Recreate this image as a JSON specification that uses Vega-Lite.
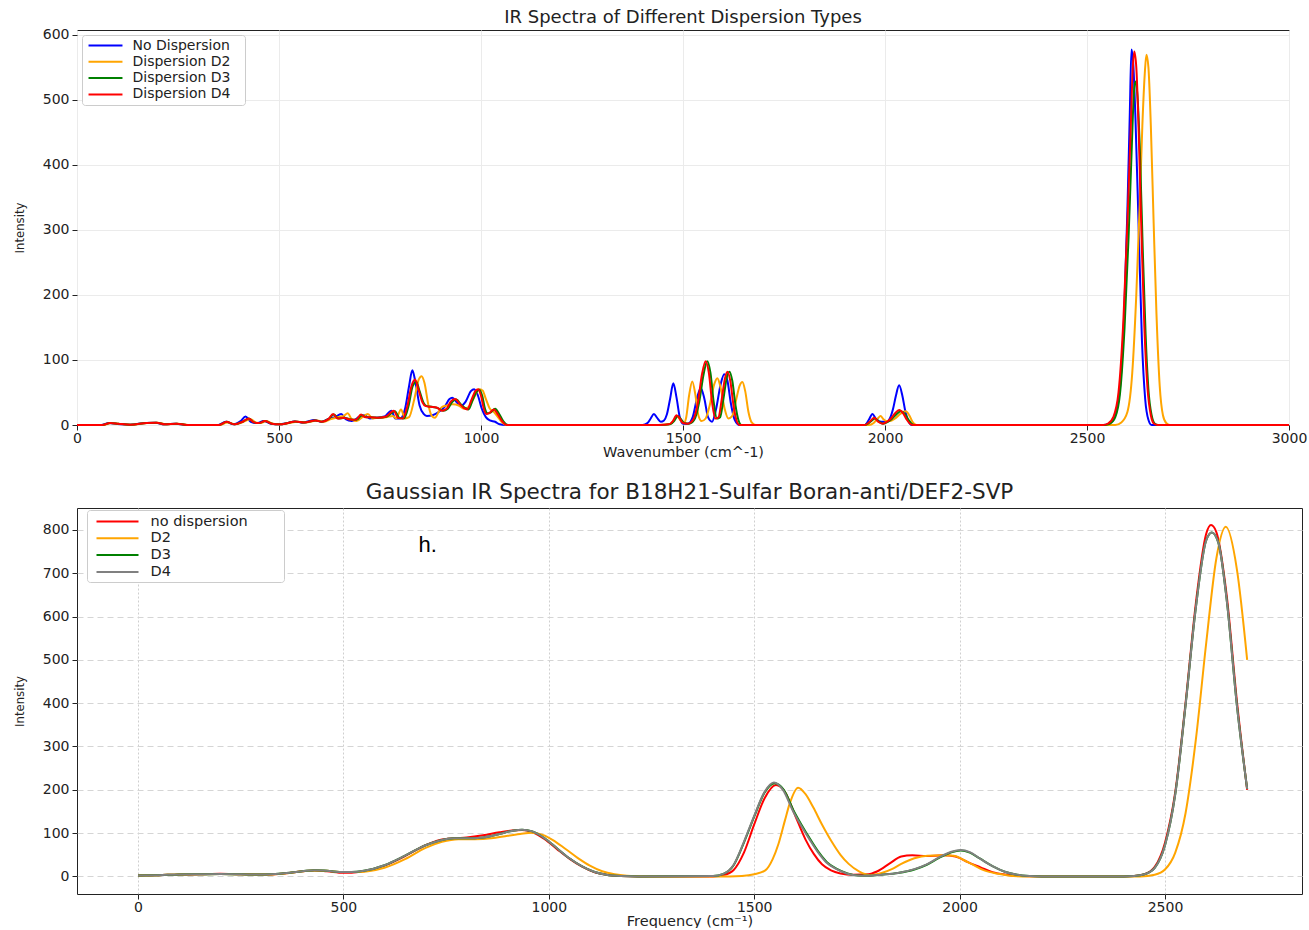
{
"$schema": "https://vega.github.io/schema/vega-lite/v6.json",
"padding": {"left": 12, "top": 8, "right": 0, "bottom": 0},
"config": {
  "font": "DejaVu Sans",
  "view": {"stroke": "#222", "strokeWidth": 1},
  "axis": {"domain": false, "tickColor": "#222", "tickSize": 5, "labelColor": "#222", "labelFontSize": 14, "titleFontSize": 14.5, "titleFontWeight": "normal", "titleColor": "#222", "labelPadding": 3, "format": "d", "labelFlush": false},
  "title": {"fontWeight": "normal", "color": "#222", "font": "DejaVu Sans"}
},
"spacing": 22,
"resolve": {"scale": {"color": "independent"}, "legend": {"color": "independent"}},
"vconcat": [
{
  "width": 1212, "height": 395,
  "title": {"text": "IR Spectra of Different Dispersion Types", "fontSize": 18, "offset": 1},
  "data": {"values": [
{"s":"No Dispersion","x":0,"y":0},{"s":"No Dispersion","x":60,"y":0},{"s":"No Dispersion","x":80,"y":3},{"s":"No Dispersion","x":100,"y":1.5},{"s":"No Dispersion","x":130,"y":0.5},{"s":"No Dispersion","x":170,"y":3},{"s":"No Dispersion","x":195,"y":3.5},{"s":"No Dispersion","x":215,"y":1},{"s":"No Dispersion","x":245,"y":2},{"s":"No Dispersion","x":270,"y":0},{"s":"No Dispersion","x":350,"y":0},{"s":"No Dispersion","x":368,"y":5},{"s":"No Dispersion","x":388,"y":1},{"s":"No Dispersion","x":405,"y":6},{"s":"No Dispersion","x":417,"y":13},{"s":"No Dispersion","x":430,"y":5},{"s":"No Dispersion","x":445,"y":3},{"s":"No Dispersion","x":462,"y":6},{"s":"No Dispersion","x":480,"y":2},{"s":"No Dispersion","x":501,"y":1},{"s":"No Dispersion","x":520,"y":3},{"s":"No Dispersion","x":538,"y":5.5},{"s":"No Dispersion","x":560,"y":4},{"s":"No Dispersion","x":588,"y":7.5},{"s":"No Dispersion","x":605,"y":5},{"s":"No Dispersion","x":621,"y":9},{"s":"No Dispersion","x":638,"y":12},{"s":"No Dispersion","x":654,"y":17},{"s":"No Dispersion","x":665,"y":9},{"s":"No Dispersion","x":680,"y":6},{"s":"No Dispersion","x":700,"y":13},{"s":"No Dispersion","x":712,"y":15},{"s":"No Dispersion","x":725,"y":10},{"s":"No Dispersion","x":740,"y":11},{"s":"No Dispersion","x":761,"y":13},{"s":"No Dispersion","x":770,"y":18},{"s":"No Dispersion","x":778,"y":22},{"s":"No Dispersion","x":788,"y":10},{"s":"No Dispersion","x":800,"y":10},{"s":"No Dispersion","x":812,"y":25},{"s":"No Dispersion","x":822,"y":60},{"s":"No Dispersion","x":830,"y":84},{"s":"No Dispersion","x":838,"y":65},{"s":"No Dispersion","x":848,"y":30},{"s":"No Dispersion","x":858,"y":17},{"s":"No Dispersion","x":866,"y":14},{"s":"No Dispersion","x":880,"y":15},{"s":"No Dispersion","x":895,"y":20},{"s":"No Dispersion","x":910,"y":28},{"s":"No Dispersion","x":922,"y":40},{"s":"No Dispersion","x":929,"y":42},{"s":"No Dispersion","x":940,"y":35},{"s":"No Dispersion","x":950,"y":29},{"s":"No Dispersion","x":962,"y":36},{"s":"No Dispersion","x":975,"y":52},{"s":"No Dispersion","x":983,"y":55},{"s":"No Dispersion","x":992,"y":46},{"s":"No Dispersion","x":1002,"y":25},{"s":"No Dispersion","x":1012,"y":12},{"s":"No Dispersion","x":1022,"y":7},{"s":"No Dispersion","x":1035,"y":5},{"s":"No Dispersion","x":1046,"y":1},{"s":"No Dispersion","x":1060,"y":0},{"s":"No Dispersion","x":1400,"y":0},{"s":"No Dispersion","x":1412,"y":3},{"s":"No Dispersion","x":1420,"y":10},{"s":"No Dispersion","x":1428,"y":17},{"s":"No Dispersion","x":1436,"y":11},{"s":"No Dispersion","x":1445,"y":5},{"s":"No Dispersion","x":1453,"y":7},{"s":"No Dispersion","x":1460,"y":16},{"s":"No Dispersion","x":1468,"y":40},{"s":"No Dispersion","x":1476,"y":64},{"s":"No Dispersion","x":1484,"y":42},{"s":"No Dispersion","x":1492,"y":12},{"s":"No Dispersion","x":1500,"y":2},{"s":"No Dispersion","x":1512,"y":2},{"s":"No Dispersion","x":1524,"y":12},{"s":"No Dispersion","x":1535,"y":42},{"s":"No Dispersion","x":1544,"y":57},{"s":"No Dispersion","x":1553,"y":40},{"s":"No Dispersion","x":1562,"y":12},{"s":"No Dispersion","x":1572,"y":5},{"s":"No Dispersion","x":1582,"y":25},{"s":"No Dispersion","x":1593,"y":62},{"s":"No Dispersion","x":1602,"y":78},{"s":"No Dispersion","x":1610,"y":68},{"s":"No Dispersion","x":1618,"y":35},{"s":"No Dispersion","x":1628,"y":8},{"s":"No Dispersion","x":1640,"y":0},{"s":"No Dispersion","x":1950,"y":0},{"s":"No Dispersion","x":1960,"y":8},{"s":"No Dispersion","x":1969,"y":17},{"s":"No Dispersion","x":1977,"y":10},{"s":"No Dispersion","x":1985,"y":6},{"s":"No Dispersion","x":1995,"y":5},{"s":"No Dispersion","x":2004,"y":5},{"s":"No Dispersion","x":2012,"y":10},{"s":"No Dispersion","x":2020,"y":25},{"s":"No Dispersion","x":2027,"y":45},{"s":"No Dispersion","x":2035,"y":61},{"s":"No Dispersion","x":2043,"y":45},{"s":"No Dispersion","x":2050,"y":22},{"s":"No Dispersion","x":2058,"y":6},{"s":"No Dispersion","x":2066,"y":0},{"s":"No Dispersion","x":2540,"y":0},{"s":"No Dispersion","x":2555,"y":2},{"s":"No Dispersion","x":2570,"y":15},{"s":"No Dispersion","x":2582,"y":60},{"s":"No Dispersion","x":2592,"y":170},{"s":"No Dispersion","x":2600,"y":330},{"s":"No Dispersion","x":2606,"y":480},{"s":"No Dispersion","x":2610,"y":577},{"s":"No Dispersion","x":2614,"y":560},{"s":"No Dispersion","x":2620,"y":470},{"s":"No Dispersion","x":2628,"y":300},{"s":"No Dispersion","x":2636,"y":130},{"s":"No Dispersion","x":2644,"y":40},{"s":"No Dispersion","x":2652,"y":8},{"s":"No Dispersion","x":2660,"y":0},{"s":"No Dispersion","x":3000,"y":0},
{"s":"Dispersion D2","x":0,"y":0},{"s":"Dispersion D2","x":65,"y":0},{"s":"Dispersion D2","x":85,"y":3},{"s":"Dispersion D2","x":105,"y":1.5},{"s":"Dispersion D2","x":135,"y":0.5},{"s":"Dispersion D2","x":175,"y":3},{"s":"Dispersion D2","x":200,"y":3.5},{"s":"Dispersion D2","x":220,"y":1},{"s":"Dispersion D2","x":250,"y":2},{"s":"Dispersion D2","x":275,"y":0},{"s":"Dispersion D2","x":355,"y":0},{"s":"Dispersion D2","x":372,"y":4},{"s":"Dispersion D2","x":392,"y":1},{"s":"Dispersion D2","x":412,"y":5},{"s":"Dispersion D2","x":430,"y":9},{"s":"Dispersion D2","x":442,"y":4},{"s":"Dispersion D2","x":455,"y":3},{"s":"Dispersion D2","x":468,"y":6},{"s":"Dispersion D2","x":485,"y":2},{"s":"Dispersion D2","x":505,"y":1},{"s":"Dispersion D2","x":525,"y":3},{"s":"Dispersion D2","x":545,"y":5},{"s":"Dispersion D2","x":565,"y":4},{"s":"Dispersion D2","x":595,"y":7},{"s":"Dispersion D2","x":610,"y":5},{"s":"Dispersion D2","x":628,"y":9},{"s":"Dispersion D2","x":645,"y":12},{"s":"Dispersion D2","x":660,"y":14},{"s":"Dispersion D2","x":670,"y":18},{"s":"Dispersion D2","x":680,"y":9},{"s":"Dispersion D2","x":692,"y":6},{"s":"Dispersion D2","x":708,"y":13},{"s":"Dispersion D2","x":720,"y":17},{"s":"Dispersion D2","x":732,"y":10},{"s":"Dispersion D2","x":745,"y":11},{"s":"Dispersion D2","x":765,"y":12},{"s":"Dispersion D2","x":782,"y":14},{"s":"Dispersion D2","x":790,"y":10},{"s":"Dispersion D2","x":802,"y":24},{"s":"Dispersion D2","x":812,"y":10},{"s":"Dispersion D2","x":822,"y":12},{"s":"Dispersion D2","x":835,"y":40},{"s":"Dispersion D2","x":846,"y":70},{"s":"Dispersion D2","x":853,"y":75},{"s":"Dispersion D2","x":860,"y":65},{"s":"Dispersion D2","x":870,"y":30},{"s":"Dispersion D2","x":878,"y":14},{"s":"Dispersion D2","x":886,"y":11},{"s":"Dispersion D2","x":895,"y":20},{"s":"Dispersion D2","x":902,"y":27},{"s":"Dispersion D2","x":915,"y":30},{"s":"Dispersion D2","x":930,"y":32},{"s":"Dispersion D2","x":945,"y":30},{"s":"Dispersion D2","x":958,"y":25},{"s":"Dispersion D2","x":970,"y":28},{"s":"Dispersion D2","x":985,"y":45},{"s":"Dispersion D2","x":995,"y":55},{"s":"Dispersion D2","x":1004,"y":53},{"s":"Dispersion D2","x":1012,"y":40},{"s":"Dispersion D2","x":1022,"y":25},{"s":"Dispersion D2","x":1032,"y":20},{"s":"Dispersion D2","x":1042,"y":12},{"s":"Dispersion D2","x":1052,"y":4},{"s":"Dispersion D2","x":1062,"y":0},{"s":"Dispersion D2","x":1440,"y":0},{"s":"Dispersion D2","x":1470,"y":2},{"s":"Dispersion D2","x":1478,"y":8},{"s":"Dispersion D2","x":1486,"y":13},{"s":"Dispersion D2","x":1494,"y":7},{"s":"Dispersion D2","x":1502,"y":3},{"s":"Dispersion D2","x":1508,"y":12},{"s":"Dispersion D2","x":1515,"y":45},{"s":"Dispersion D2","x":1523,"y":67},{"s":"Dispersion D2","x":1531,"y":45},{"s":"Dispersion D2","x":1538,"y":15},{"s":"Dispersion D2","x":1546,"y":6},{"s":"Dispersion D2","x":1556,"y":10},{"s":"Dispersion D2","x":1566,"y":30},{"s":"Dispersion D2","x":1577,"y":62},{"s":"Dispersion D2","x":1585,"y":72},{"s":"Dispersion D2","x":1593,"y":58},{"s":"Dispersion D2","x":1603,"y":25},{"s":"Dispersion D2","x":1612,"y":10},{"s":"Dispersion D2","x":1622,"y":14},{"s":"Dispersion D2","x":1632,"y":40},{"s":"Dispersion D2","x":1640,"y":60},{"s":"Dispersion D2","x":1647,"y":66},{"s":"Dispersion D2","x":1654,"y":52},{"s":"Dispersion D2","x":1662,"y":20},{"s":"Dispersion D2","x":1670,"y":4},{"s":"Dispersion D2","x":1680,"y":0},{"s":"Dispersion D2","x":1960,"y":0},{"s":"Dispersion D2","x":1972,"y":3},{"s":"Dispersion D2","x":1982,"y":10},{"s":"Dispersion D2","x":1989,"y":14},{"s":"Dispersion D2","x":1996,"y":9},{"s":"Dispersion D2","x":2003,"y":6},{"s":"Dispersion D2","x":2012,"y":6},{"s":"Dispersion D2","x":2025,"y":10},{"s":"Dispersion D2","x":2038,"y":17},{"s":"Dispersion D2","x":2051,"y":21},{"s":"Dispersion D2","x":2060,"y":15},{"s":"Dispersion D2","x":2068,"y":5},{"s":"Dispersion D2","x":2078,"y":0},{"s":"Dispersion D2","x":2570,"y":0},{"s":"Dispersion D2","x":2585,"y":4},{"s":"Dispersion D2","x":2600,"y":20},{"s":"Dispersion D2","x":2612,"y":80},{"s":"Dispersion D2","x":2622,"y":200},{"s":"Dispersion D2","x":2630,"y":330},{"s":"Dispersion D2","x":2637,"y":460},{"s":"Dispersion D2","x":2643,"y":540},{"s":"Dispersion D2","x":2647,"y":569},{"s":"Dispersion D2","x":2652,"y":550},{"s":"Dispersion D2","x":2658,"y":460},{"s":"Dispersion D2","x":2665,"y":310},{"s":"Dispersion D2","x":2672,"y":170},{"s":"Dispersion D2","x":2680,"y":60},{"s":"Dispersion D2","x":2688,"y":15},{"s":"Dispersion D2","x":2696,"y":3},{"s":"Dispersion D2","x":2705,"y":0},{"s":"Dispersion D2","x":3000,"y":0},
{"s":"Dispersion D3","x":0,"y":0},{"s":"Dispersion D3","x":62,"y":0},{"s":"Dispersion D3","x":82,"y":3},{"s":"Dispersion D3","x":102,"y":2},{"s":"Dispersion D3","x":132,"y":0.5},{"s":"Dispersion D3","x":172,"y":3},{"s":"Dispersion D3","x":197,"y":3.5},{"s":"Dispersion D3","x":217,"y":1},{"s":"Dispersion D3","x":247,"y":2},{"s":"Dispersion D3","x":272,"y":0},{"s":"Dispersion D3","x":352,"y":0},{"s":"Dispersion D3","x":370,"y":5},{"s":"Dispersion D3","x":390,"y":1},{"s":"Dispersion D3","x":410,"y":5},{"s":"Dispersion D3","x":425,"y":10},{"s":"Dispersion D3","x":438,"y":4},{"s":"Dispersion D3","x":450,"y":3},{"s":"Dispersion D3","x":465,"y":6},{"s":"Dispersion D3","x":482,"y":2},{"s":"Dispersion D3","x":502,"y":1},{"s":"Dispersion D3","x":522,"y":3},{"s":"Dispersion D3","x":540,"y":5.5},{"s":"Dispersion D3","x":562,"y":4},{"s":"Dispersion D3","x":590,"y":7},{"s":"Dispersion D3","x":606,"y":5},{"s":"Dispersion D3","x":622,"y":9},{"s":"Dispersion D3","x":636,"y":16},{"s":"Dispersion D3","x":647,"y":10},{"s":"Dispersion D3","x":662,"y":11},{"s":"Dispersion D3","x":674,"y":9},{"s":"Dispersion D3","x":692,"y":8},{"s":"Dispersion D3","x":705,"y":15},{"s":"Dispersion D3","x":716,"y":12},{"s":"Dispersion D3","x":730,"y":12},{"s":"Dispersion D3","x":747,"y":11},{"s":"Dispersion D3","x":767,"y":13},{"s":"Dispersion D3","x":787,"y":21},{"s":"Dispersion D3","x":798,"y":11},{"s":"Dispersion D3","x":809,"y":10},{"s":"Dispersion D3","x":821,"y":30},{"s":"Dispersion D3","x":831,"y":60},{"s":"Dispersion D3","x":840,"y":66},{"s":"Dispersion D3","x":848,"y":52},{"s":"Dispersion D3","x":858,"y":34},{"s":"Dispersion D3","x":866,"y":29},{"s":"Dispersion D3","x":878,"y":28},{"s":"Dispersion D3","x":893,"y":26},{"s":"Dispersion D3","x":906,"y":22},{"s":"Dispersion D3","x":918,"y":25},{"s":"Dispersion D3","x":928,"y":35},{"s":"Dispersion D3","x":939,"y":39},{"s":"Dispersion D3","x":951,"y":31},{"s":"Dispersion D3","x":961,"y":26},{"s":"Dispersion D3","x":969,"y":24},{"s":"Dispersion D3","x":979,"y":38},{"s":"Dispersion D3","x":989,"y":51},{"s":"Dispersion D3","x":996,"y":54},{"s":"Dispersion D3","x":1003,"y":45},{"s":"Dispersion D3","x":1010,"y":25},{"s":"Dispersion D3","x":1016,"y":18},{"s":"Dispersion D3","x":1023,"y":19},{"s":"Dispersion D3","x":1035,"y":25},{"s":"Dispersion D3","x":1045,"y":17},{"s":"Dispersion D3","x":1055,"y":6},{"s":"Dispersion D3","x":1067,"y":0},{"s":"Dispersion D3","x":1445,"y":0},{"s":"Dispersion D3","x":1468,"y":1},{"s":"Dispersion D3","x":1478,"y":6},{"s":"Dispersion D3","x":1487,"y":14},{"s":"Dispersion D3","x":1495,"y":9},{"s":"Dispersion D3","x":1503,"y":3},{"s":"Dispersion D3","x":1515,"y":2},{"s":"Dispersion D3","x":1528,"y":8},{"s":"Dispersion D3","x":1540,"y":35},{"s":"Dispersion D3","x":1551,"y":78},{"s":"Dispersion D3","x":1560,"y":98},{"s":"Dispersion D3","x":1568,"y":80},{"s":"Dispersion D3","x":1576,"y":35},{"s":"Dispersion D3","x":1584,"y":10},{"s":"Dispersion D3","x":1592,"y":12},{"s":"Dispersion D3","x":1600,"y":40},{"s":"Dispersion D3","x":1608,"y":72},{"s":"Dispersion D3","x":1615,"y":82},{"s":"Dispersion D3","x":1622,"y":68},{"s":"Dispersion D3","x":1630,"y":30},{"s":"Dispersion D3","x":1637,"y":8},{"s":"Dispersion D3","x":1645,"y":0},{"s":"Dispersion D3","x":1950,"y":0},{"s":"Dispersion D3","x":1964,"y":5},{"s":"Dispersion D3","x":1975,"y":10},{"s":"Dispersion D3","x":1985,"y":5},{"s":"Dispersion D3","x":1996,"y":2},{"s":"Dispersion D3","x":2008,"y":5},{"s":"Dispersion D3","x":2018,"y":10},{"s":"Dispersion D3","x":2029,"y":17},{"s":"Dispersion D3","x":2039,"y":21},{"s":"Dispersion D3","x":2049,"y":17},{"s":"Dispersion D3","x":2058,"y":8},{"s":"Dispersion D3","x":2066,"y":2},{"s":"Dispersion D3","x":2074,"y":0},{"s":"Dispersion D3","x":2545,"y":0},{"s":"Dispersion D3","x":2557,"y":2},{"s":"Dispersion D3","x":2570,"y":12},{"s":"Dispersion D3","x":2582,"y":50},{"s":"Dispersion D3","x":2593,"y":150},{"s":"Dispersion D3","x":2603,"y":290},{"s":"Dispersion D3","x":2611,"y":430},{"s":"Dispersion D3","x":2616,"y":510},{"s":"Dispersion D3","x":2620,"y":528},{"s":"Dispersion D3","x":2625,"y":505},{"s":"Dispersion D3","x":2631,"y":420},{"s":"Dispersion D3","x":2638,"y":270},{"s":"Dispersion D3","x":2645,"y":140},{"s":"Dispersion D3","x":2652,"y":55},{"s":"Dispersion D3","x":2660,"y":15},{"s":"Dispersion D3","x":2668,"y":2},{"s":"Dispersion D3","x":2676,"y":0},{"s":"Dispersion D3","x":3000,"y":0},
{"s":"Dispersion D4","x":0,"y":0},{"s":"Dispersion D4","x":62,"y":0},{"s":"Dispersion D4","x":82,"y":3},{"s":"Dispersion D4","x":102,"y":2},{"s":"Dispersion D4","x":132,"y":0.5},{"s":"Dispersion D4","x":172,"y":3},{"s":"Dispersion D4","x":197,"y":3.5},{"s":"Dispersion D4","x":217,"y":1},{"s":"Dispersion D4","x":247,"y":2},{"s":"Dispersion D4","x":272,"y":0},{"s":"Dispersion D4","x":352,"y":0},{"s":"Dispersion D4","x":370,"y":5},{"s":"Dispersion D4","x":390,"y":1},{"s":"Dispersion D4","x":410,"y":5},{"s":"Dispersion D4","x":425,"y":10},{"s":"Dispersion D4","x":438,"y":4},{"s":"Dispersion D4","x":450,"y":3},{"s":"Dispersion D4","x":465,"y":6},{"s":"Dispersion D4","x":482,"y":2},{"s":"Dispersion D4","x":502,"y":1},{"s":"Dispersion D4","x":522,"y":3},{"s":"Dispersion D4","x":540,"y":5.5},{"s":"Dispersion D4","x":562,"y":4},{"s":"Dispersion D4","x":590,"y":7},{"s":"Dispersion D4","x":606,"y":5},{"s":"Dispersion D4","x":622,"y":9},{"s":"Dispersion D4","x":634,"y":17},{"s":"Dispersion D4","x":645,"y":10},{"s":"Dispersion D4","x":660,"y":11},{"s":"Dispersion D4","x":672,"y":9},{"s":"Dispersion D4","x":690,"y":8},{"s":"Dispersion D4","x":703,"y":16},{"s":"Dispersion D4","x":714,"y":12},{"s":"Dispersion D4","x":728,"y":12},{"s":"Dispersion D4","x":745,"y":11},{"s":"Dispersion D4","x":765,"y":13},{"s":"Dispersion D4","x":784,"y":22},{"s":"Dispersion D4","x":795,"y":11},{"s":"Dispersion D4","x":806,"y":10},{"s":"Dispersion D4","x":818,"y":30},{"s":"Dispersion D4","x":828,"y":60},{"s":"Dispersion D4","x":837,"y":70},{"s":"Dispersion D4","x":845,"y":55},{"s":"Dispersion D4","x":855,"y":35},{"s":"Dispersion D4","x":863,"y":29},{"s":"Dispersion D4","x":875,"y":28},{"s":"Dispersion D4","x":890,"y":27},{"s":"Dispersion D4","x":903,"y":22},{"s":"Dispersion D4","x":915,"y":25},{"s":"Dispersion D4","x":925,"y":36},{"s":"Dispersion D4","x":936,"y":40},{"s":"Dispersion D4","x":948,"y":32},{"s":"Dispersion D4","x":958,"y":26},{"s":"Dispersion D4","x":966,"y":24},{"s":"Dispersion D4","x":976,"y":38},{"s":"Dispersion D4","x":986,"y":52},{"s":"Dispersion D4","x":993,"y":55},{"s":"Dispersion D4","x":1000,"y":45},{"s":"Dispersion D4","x":1007,"y":25},{"s":"Dispersion D4","x":1013,"y":17},{"s":"Dispersion D4","x":1020,"y":18},{"s":"Dispersion D4","x":1032,"y":24},{"s":"Dispersion D4","x":1042,"y":16},{"s":"Dispersion D4","x":1052,"y":6},{"s":"Dispersion D4","x":1064,"y":0},{"s":"Dispersion D4","x":1440,"y":0},{"s":"Dispersion D4","x":1465,"y":1},{"s":"Dispersion D4","x":1475,"y":6},{"s":"Dispersion D4","x":1484,"y":15},{"s":"Dispersion D4","x":1492,"y":10},{"s":"Dispersion D4","x":1500,"y":3},{"s":"Dispersion D4","x":1512,"y":2},{"s":"Dispersion D4","x":1525,"y":8},{"s":"Dispersion D4","x":1537,"y":35},{"s":"Dispersion D4","x":1547,"y":78},{"s":"Dispersion D4","x":1556,"y":98},{"s":"Dispersion D4","x":1564,"y":80},{"s":"Dispersion D4","x":1572,"y":35},{"s":"Dispersion D4","x":1580,"y":10},{"s":"Dispersion D4","x":1588,"y":12},{"s":"Dispersion D4","x":1596,"y":40},{"s":"Dispersion D4","x":1604,"y":72},{"s":"Dispersion D4","x":1610,"y":82},{"s":"Dispersion D4","x":1617,"y":68},{"s":"Dispersion D4","x":1625,"y":30},{"s":"Dispersion D4","x":1632,"y":8},{"s":"Dispersion D4","x":1640,"y":0},{"s":"Dispersion D4","x":1950,"y":0},{"s":"Dispersion D4","x":1962,"y":5},{"s":"Dispersion D4","x":1973,"y":11},{"s":"Dispersion D4","x":1983,"y":5},{"s":"Dispersion D4","x":1994,"y":2},{"s":"Dispersion D4","x":2005,"y":5},{"s":"Dispersion D4","x":2015,"y":10},{"s":"Dispersion D4","x":2025,"y":18},{"s":"Dispersion D4","x":2035,"y":23},{"s":"Dispersion D4","x":2045,"y":18},{"s":"Dispersion D4","x":2054,"y":8},{"s":"Dispersion D4","x":2062,"y":2},{"s":"Dispersion D4","x":2070,"y":0},{"s":"Dispersion D4","x":2540,"y":0},{"s":"Dispersion D4","x":2552,"y":2},{"s":"Dispersion D4","x":2565,"y":12},{"s":"Dispersion D4","x":2578,"y":50},{"s":"Dispersion D4","x":2590,"y":160},{"s":"Dispersion D4","x":2600,"y":310},{"s":"Dispersion D4","x":2608,"y":450},{"s":"Dispersion D4","x":2613,"y":545},{"s":"Dispersion D4","x":2617,"y":574},{"s":"Dispersion D4","x":2622,"y":550},{"s":"Dispersion D4","x":2628,"y":450},{"s":"Dispersion D4","x":2635,"y":290},{"s":"Dispersion D4","x":2642,"y":150},{"s":"Dispersion D4","x":2650,"y":55},{"s":"Dispersion D4","x":2658,"y":15},{"s":"Dispersion D4","x":2666,"y":2},{"s":"Dispersion D4","x":2675,"y":0},{"s":"Dispersion D4","x":3000,"y":0}
  ]},
  "mark": {"type": "line", "strokeWidth": 2, "interpolate": "monotone"},
  "encoding": {
    "x": {"field": "x", "type": "quantitative", "scale": {"domain": [0, 3000], "nice": false, "zero": false},
          "axis": {"values": [0,500,1000,1500,2000,2500,3000], "title": "Wavenumber (cm^-1)", "grid": true, "gridColor": "#ebebeb", "labelPadding": 1, "titlePadding": 0}},
    "y": {"field": "y", "type": "quantitative", "scale": {"domain": [0, 607], "nice": false},
          "axis": {"values": [0,100,200,300,400,500,600], "title": "Intensity", "grid": true, "gridColor": "#ebebeb", "titleFont": "DejaVu Sans Condensed, DejaVu Sans", "titleFontSize": 13, "titlePadding": 16}},
    "color": {"field": "s", "type": "nominal",
      "scale": {"domain": ["No Dispersion","Dispersion D2","Dispersion D3","Dispersion D4"], "range": ["#0000ff","#ffa500","#008000","#ff0000"]},
      "legend": {"title": null, "orient": "top-left", "offset": 5, "symbolType": "M-3,0L3,0", "symbolSize": 128, "symbolStrokeWidth": 2, "symbolOffset": 13, "labelFontSize": 14, "labelOffset": 20, "rowPadding": 2.3, "padding": 3.5, "fillColor": "white", "strokeColor": "#cccccc", "cornerRadius": 3, "labelColor": "#222", "labelExpr": "datum.label + '\u2800'"}}
  }
},
{
  "width": 1225, "height": 386,
  "title": {"text": "Gaussian IR Spectra for B18H21-Sulfar Boran-anti/DEF2-SVP", "fontSize": 21.5, "offset": 5},
  "layer": [
  {
  "data": {"values": [
{"s":"no dispersion","x":0,"y":2},{"s":"no dispersion","x":50,"y":3},{"s":"no dispersion","x":100,"y":4.5},{"s":"no dispersion","x":150,"y":5},{"s":"no dispersion","x":200,"y":6},{"s":"no dispersion","x":250,"y":5},{"s":"no dispersion","x":300,"y":4.5},{"s":"no dispersion","x":350,"y":6.5},{"s":"no dispersion","x":400,"y":12},{"s":"no dispersion","x":430,"y":14},{"s":"no dispersion","x":460,"y":12},{"s":"no dispersion","x":500,"y":8.5},{"s":"no dispersion","x":520,"y":8.5},{"s":"no dispersion","x":550,"y":12},{"s":"no dispersion","x":600,"y":25},{"s":"no dispersion","x":650,"y":47},{"s":"no dispersion","x":700,"y":72},{"s":"no dispersion","x":735,"y":84},{"s":"no dispersion","x":770,"y":88},{"s":"no dispersion","x":800,"y":90},{"s":"no dispersion","x":840,"y":95},{"s":"no dispersion","x":880,"y":102},{"s":"no dispersion","x":910,"y":106},{"s":"no dispersion","x":935,"y":107},{"s":"no dispersion","x":960,"y":102},{"s":"no dispersion","x":990,"y":86},{"s":"no dispersion","x":1020,"y":63},{"s":"no dispersion","x":1050,"y":41},{"s":"no dispersion","x":1080,"y":23},{"s":"no dispersion","x":1110,"y":10},{"s":"no dispersion","x":1140,"y":4},{"s":"no dispersion","x":1175,"y":1},{"s":"no dispersion","x":1220,"y":0},{"s":"no dispersion","x":1400,"y":0},{"s":"no dispersion","x":1425,"y":3},{"s":"no dispersion","x":1450,"y":15},{"s":"no dispersion","x":1475,"y":55},{"s":"no dispersion","x":1500,"y":120},{"s":"no dispersion","x":1525,"y":180},{"s":"no dispersion","x":1553,"y":211},{"s":"no dispersion","x":1575,"y":195},{"s":"no dispersion","x":1600,"y":140},{"s":"no dispersion","x":1625,"y":85},{"s":"no dispersion","x":1645,"y":52},{"s":"no dispersion","x":1665,"y":28},{"s":"no dispersion","x":1687,"y":14},{"s":"no dispersion","x":1710,"y":7},{"s":"no dispersion","x":1740,"y":4},{"s":"no dispersion","x":1778,"y":5},{"s":"no dispersion","x":1800,"y":12},{"s":"no dispersion","x":1830,"y":30},{"s":"no dispersion","x":1858,"y":46},{"s":"no dispersion","x":1885,"y":49},{"s":"no dispersion","x":1920,"y":47},{"s":"no dispersion","x":1960,"y":49},{"s":"no dispersion","x":1990,"y":46},{"s":"no dispersion","x":2020,"y":33},{"s":"no dispersion","x":2051,"y":21},{"s":"no dispersion","x":2080,"y":10},{"s":"no dispersion","x":2115,"y":4},{"s":"no dispersion","x":2150,"y":1},{"s":"no dispersion","x":2200,"y":0},{"s":"no dispersion","x":2400,"y":0},{"s":"no dispersion","x":2425,"y":1},{"s":"no dispersion","x":2450,"y":5},{"s":"no dispersion","x":2475,"y":22},{"s":"no dispersion","x":2500,"y":78},{"s":"no dispersion","x":2525,"y":195},{"s":"no dispersion","x":2550,"y":400},{"s":"no dispersion","x":2575,"y":630},{"s":"no dispersion","x":2600,"y":790},{"s":"no dispersion","x":2612,"y":811},{"s":"no dispersion","x":2625,"y":795},{"s":"no dispersion","x":2650,"y":650},{"s":"no dispersion","x":2675,"y":405},{"s":"no dispersion","x":2700,"y":200},
{"s":"D2","x":0,"y":2},{"s":"D2","x":50,"y":3},{"s":"D2","x":100,"y":4.5},{"s":"D2","x":150,"y":5},{"s":"D2","x":200,"y":5.5},{"s":"D2","x":250,"y":5},{"s":"D2","x":300,"y":4.5},{"s":"D2","x":350,"y":6.5},{"s":"D2","x":400,"y":12},{"s":"D2","x":430,"y":14},{"s":"D2","x":460,"y":13},{"s":"D2","x":500,"y":10},{"s":"D2","x":530,"y":10},{"s":"D2","x":560,"y":12},{"s":"D2","x":600,"y":20},{"s":"D2","x":650,"y":40},{"s":"D2","x":700,"y":66},{"s":"D2","x":740,"y":80},{"s":"D2","x":780,"y":86},{"s":"D2","x":820,"y":86},{"s":"D2","x":860,"y":88},{"s":"D2","x":900,"y":94},{"s":"D2","x":930,"y":98},{"s":"D2","x":958,"y":101},{"s":"D2","x":985,"y":96},{"s":"D2","x":1010,"y":84},{"s":"D2","x":1040,"y":64},{"s":"D2","x":1070,"y":43},{"s":"D2","x":1100,"y":25},{"s":"D2","x":1130,"y":12},{"s":"D2","x":1160,"y":5},{"s":"D2","x":1190,"y":1.5},{"s":"D2","x":1230,"y":0},{"s":"D2","x":1440,"y":0},{"s":"D2","x":1470,"y":1},{"s":"D2","x":1500,"y":5},{"s":"D2","x":1527,"y":14},{"s":"D2","x":1545,"y":40},{"s":"D2","x":1559,"y":75},{"s":"D2","x":1575,"y":130},{"s":"D2","x":1586,"y":167},{"s":"D2","x":1607,"y":205},{"s":"D2","x":1625,"y":190},{"s":"D2","x":1644,"y":159},{"s":"D2","x":1665,"y":120},{"s":"D2","x":1687,"y":83},{"s":"D2","x":1710,"y":50},{"s":"D2","x":1730,"y":29},{"s":"D2","x":1755,"y":12},{"s":"D2","x":1783,"y":3},{"s":"D2","x":1810,"y":8},{"s":"D2","x":1835,"y":17},{"s":"D2","x":1858,"y":29},{"s":"D2","x":1890,"y":42},{"s":"D2","x":1922,"y":48},{"s":"D2","x":1960,"y":49},{"s":"D2","x":1986,"y":48},{"s":"D2","x":2010,"y":38},{"s":"D2","x":2029,"y":29},{"s":"D2","x":2060,"y":14},{"s":"D2","x":2094,"y":6},{"s":"D2","x":2130,"y":1},{"s":"D2","x":2170,"y":0},{"s":"D2","x":2440,"y":0},{"s":"D2","x":2475,"y":4},{"s":"D2","x":2500,"y":16},{"s":"D2","x":2525,"y":55},{"s":"D2","x":2550,"y":146},{"s":"D2","x":2575,"y":315},{"s":"D2","x":2600,"y":536},{"s":"D2","x":2625,"y":734},{"s":"D2","x":2648,"y":807},{"s":"D2","x":2675,"y":709},{"s":"D2","x":2700,"y":500},
{"s":"D3","x":0,"y":2},{"s":"D3","x":50,"y":3},{"s":"D3","x":100,"y":4.5},{"s":"D3","x":150,"y":5},{"s":"D3","x":200,"y":5.5},{"s":"D3","x":250,"y":5},{"s":"D3","x":300,"y":4.5},{"s":"D3","x":350,"y":7},{"s":"D3","x":400,"y":12},{"s":"D3","x":430,"y":14.5},{"s":"D3","x":460,"y":13},{"s":"D3","x":500,"y":10},{"s":"D3","x":520,"y":10},{"s":"D3","x":550,"y":13},{"s":"D3","x":600,"y":26},{"s":"D3","x":650,"y":48},{"s":"D3","x":700,"y":72},{"s":"D3","x":735,"y":83},{"s":"D3","x":770,"y":88},{"s":"D3","x":800,"y":88},{"s":"D3","x":840,"y":90},{"s":"D3","x":880,"y":98},{"s":"D3","x":910,"y":105},{"s":"D3","x":935,"y":108},{"s":"D3","x":960,"y":104},{"s":"D3","x":990,"y":88},{"s":"D3","x":1020,"y":65},{"s":"D3","x":1050,"y":42},{"s":"D3","x":1080,"y":24},{"s":"D3","x":1110,"y":11},{"s":"D3","x":1140,"y":4},{"s":"D3","x":1175,"y":1},{"s":"D3","x":1220,"y":0},{"s":"D3","x":1400,"y":1},{"s":"D3","x":1425,"y":6},{"s":"D3","x":1450,"y":26},{"s":"D3","x":1475,"y":78},{"s":"D3","x":1500,"y":138},{"s":"D3","x":1525,"y":193},{"s":"D3","x":1550,"y":215},{"s":"D3","x":1572,"y":200},{"s":"D3","x":1597,"y":150},{"s":"D3","x":1614,"y":121},{"s":"D3","x":1637,"y":85},{"s":"D3","x":1657,"y":56},{"s":"D3","x":1677,"y":33},{"s":"D3","x":1700,"y":18},{"s":"D3","x":1727,"y":7},{"s":"D3","x":1753,"y":2},{"s":"D3","x":1780,"y":1.5},{"s":"D3","x":1810,"y":4},{"s":"D3","x":1850,"y":8},{"s":"D3","x":1890,"y":16},{"s":"D3","x":1920,"y":27},{"s":"D3","x":1950,"y":43},{"s":"D3","x":1980,"y":56},{"s":"D3","x":2003,"y":60},{"s":"D3","x":2025,"y":55},{"s":"D3","x":2050,"y":41},{"s":"D3","x":2080,"y":24},{"s":"D3","x":2110,"y":11},{"s":"D3","x":2140,"y":4},{"s":"D3","x":2170,"y":1},{"s":"D3","x":2200,"y":0},{"s":"D3","x":2400,"y":0},{"s":"D3","x":2425,"y":1},{"s":"D3","x":2450,"y":5},{"s":"D3","x":2475,"y":20},{"s":"D3","x":2500,"y":72},{"s":"D3","x":2525,"y":190},{"s":"D3","x":2550,"y":395},{"s":"D3","x":2575,"y":620},{"s":"D3","x":2600,"y":775},{"s":"D3","x":2614,"y":794},{"s":"D3","x":2630,"y":770},{"s":"D3","x":2650,"y":640},{"s":"D3","x":2675,"y":395},{"s":"D3","x":2700,"y":202},
{"s":"D4","x":0,"y":2},{"s":"D4","x":50,"y":3},{"s":"D4","x":100,"y":4.5},{"s":"D4","x":150,"y":5},{"s":"D4","x":200,"y":5.5},{"s":"D4","x":250,"y":5},{"s":"D4","x":300,"y":4.5},{"s":"D4","x":350,"y":7},{"s":"D4","x":400,"y":12},{"s":"D4","x":430,"y":14.5},{"s":"D4","x":460,"y":13},{"s":"D4","x":500,"y":10},{"s":"D4","x":520,"y":10},{"s":"D4","x":550,"y":13},{"s":"D4","x":600,"y":26},{"s":"D4","x":650,"y":48},{"s":"D4","x":700,"y":72},{"s":"D4","x":735,"y":83},{"s":"D4","x":770,"y":88},{"s":"D4","x":800,"y":88},{"s":"D4","x":840,"y":90},{"s":"D4","x":880,"y":98},{"s":"D4","x":910,"y":105},{"s":"D4","x":935,"y":108},{"s":"D4","x":960,"y":104},{"s":"D4","x":990,"y":88},{"s":"D4","x":1020,"y":65},{"s":"D4","x":1050,"y":42},{"s":"D4","x":1080,"y":24},{"s":"D4","x":1110,"y":11},{"s":"D4","x":1140,"y":4},{"s":"D4","x":1175,"y":1},{"s":"D4","x":1220,"y":0},{"s":"D4","x":1400,"y":1},{"s":"D4","x":1425,"y":6},{"s":"D4","x":1450,"y":27},{"s":"D4","x":1475,"y":80},{"s":"D4","x":1500,"y":140},{"s":"D4","x":1525,"y":195},{"s":"D4","x":1548,"y":217},{"s":"D4","x":1570,"y":200},{"s":"D4","x":1595,"y":150},{"s":"D4","x":1612,"y":121},{"s":"D4","x":1635,"y":85},{"s":"D4","x":1655,"y":56},{"s":"D4","x":1675,"y":33},{"s":"D4","x":1698,"y":18},{"s":"D4","x":1725,"y":7},{"s":"D4","x":1751,"y":2},{"s":"D4","x":1778,"y":1.5},{"s":"D4","x":1810,"y":4},{"s":"D4","x":1850,"y":8},{"s":"D4","x":1890,"y":17},{"s":"D4","x":1920,"y":28},{"s":"D4","x":1950,"y":44},{"s":"D4","x":1980,"y":57},{"s":"D4","x":2003,"y":61},{"s":"D4","x":2025,"y":56},{"s":"D4","x":2050,"y":41},{"s":"D4","x":2080,"y":24},{"s":"D4","x":2110,"y":11},{"s":"D4","x":2140,"y":4},{"s":"D4","x":2170,"y":1},{"s":"D4","x":2200,"y":0},{"s":"D4","x":2400,"y":0},{"s":"D4","x":2425,"y":1},{"s":"D4","x":2450,"y":5},{"s":"D4","x":2475,"y":20},{"s":"D4","x":2500,"y":72},{"s":"D4","x":2525,"y":190},{"s":"D4","x":2550,"y":395},{"s":"D4","x":2575,"y":620},{"s":"D4","x":2600,"y":775},{"s":"D4","x":2614,"y":794},{"s":"D4","x":2630,"y":770},{"s":"D4","x":2650,"y":640},{"s":"D4","x":2675,"y":395},{"s":"D4","x":2700,"y":202}
  ]},
  "mark": {"type": "line", "strokeWidth": 2, "interpolate": "monotone"},
  "encoding": {
    "x": {"field": "x", "type": "quantitative", "scale": {"domain": [-148.5, 2833.5], "nice": false, "zero": false},
          "axis": {"values": [0,500,1000,1500,2000,2500], "title": "Frequency (cm⁻¹)", "grid": true, "gridColor": "#cfcfcf", "gridDash": [2,2], "labelPadding": 1, "titlePadding": 0}},
    "y": {"field": "y", "type": "quantitative", "scale": {"domain": [-40.5, 850.5], "nice": false, "zero": false},
          "axis": {"values": [0,100,200,300,400,500,600,700,800], "title": "Intensity", "grid": true, "gridColor": "#d5d5d5", "gridDash": [6,4], "titleFont": "DejaVu Sans Condensed, DejaVu Sans", "titleFontSize": 13, "titlePadding": 16}},
    "color": {"field": "s", "type": "nominal",
      "scale": {"domain": ["no dispersion","D2","D3","D4"], "range": ["#ff0000","#ffa500","#008000","#808080"]},
      "legend": {"title": null, "orient": "none", "legendX": 10, "legendY": 2, "symbolType": "M-3,0L3,0", "symbolSize": 196, "symbolStrokeWidth": 2, "symbolOffset": 19, "labelFontSize": 14.5, "labelOffset": 25, "rowPadding": 1.8, "padding": 3.5, "fillColor": "white", "strokeColor": "#cccccc", "cornerRadius": 3, "labelColor": "#222", "labelExpr": "datum.label + '\u2800\u2800\u2800'"}}
  }
  },
  {
  "data": {"values": [{"x": 705, "y": 765, "t": "h."}]},
  "mark": {"type": "text", "fontSize": 22, "font": "Liberation Sans", "color": "#000"},
  "encoding": {
    "x": {"field": "x", "type": "quantitative"},
    "y": {"field": "y", "type": "quantitative"},
    "text": {"field": "t"}
  }
  }
  ]
}
]
}
